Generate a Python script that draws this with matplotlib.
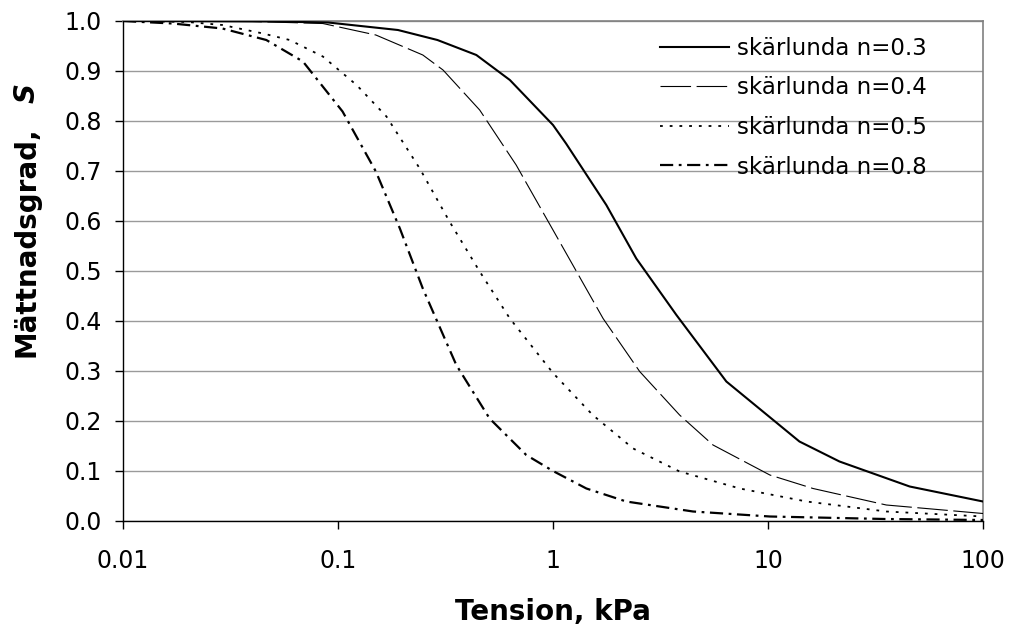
import matplotlib
matplotlib.use("Agg")
import matplotlib.pyplot as plt
from matplotlib.ticker import NullLocator

plt.rcParams['font.family'] = ['DejaVu Sans']
plt.rcParams['lines.scale_dashes'] = False

# tension (kPa) and saturation, one pair of arrays per curve
x_n03 = [0.01, 0.05, 0.09, 0.19, 0.29, 0.44, 0.63, 1.0, 1.15, 1.77, 2.44, 3.75, 6.4, 14, 21.5, 45.6, 100]
s_n03 = [1.0, 0.999, 0.997, 0.982, 0.962, 0.932, 0.882, 0.792, 0.755, 0.632, 0.525, 0.412, 0.279, 0.159, 0.119, 0.069, 0.039]

x_n04 = [0.01, 0.04, 0.085, 0.15, 0.248, 0.308, 0.456, 0.674, 1.0, 1.71, 2.53, 3.88, 5.55, 10.2, 16.2, 35.5, 100]
s_n04 = [1.0, 0.999, 0.995, 0.972, 0.932, 0.902, 0.822, 0.712, 0.582, 0.405, 0.299, 0.212, 0.152, 0.092, 0.065, 0.032, 0.015]

x_n05 = [0.01, 0.02, 0.029, 0.0448, 0.0596, 0.085, 0.122, 0.168, 0.24, 0.33, 0.456, 0.63, 1.0, 1.53, 2.36, 3.88, 7.4, 15.1, 35.5, 100]
s_n05 = [1.0, 0.998, 0.992, 0.975, 0.962, 0.929, 0.872, 0.809, 0.705, 0.599, 0.499, 0.405, 0.296, 0.212, 0.145, 0.099, 0.065, 0.039, 0.019, 0.009]

x_n08 = [0.01, 0.017, 0.029, 0.0464, 0.0687, 0.105, 0.15, 0.194, 0.248, 0.355, 0.507, 0.751, 1.0, 1.43, 2.19, 4.48, 10.2, 35, 100]
s_n08 = [1.0, 0.995, 0.985, 0.962, 0.919, 0.819, 0.699, 0.585, 0.465, 0.312, 0.205, 0.132, 0.10, 0.065, 0.039, 0.019, 0.009, 0.004, 0.002]

labels = ['skärlunda n=0.3', 'skärlunda n=0.4', 'skärlunda n=0.5', 'skärlunda n=0.8']

x_ticks = [0.01, 0.1, 1, 10, 100]
x_tick_labels = ['0.01', '0.1', '1', '10', '100']
y_ticks = [0.0, 0.1, 0.2, 0.3, 0.4, 0.5, 0.6, 0.7, 0.8, 0.9, 1.0]

W, H = 1010, 632
fig = plt.figure(figsize=(W / 100, H / 100), dpi=100)
ax = fig.add_axes([123 / W, 1 - 521 / H, (983 - 123) / W, (521 - 21) / H])

ax.plot(x_n03, s_n03, color='black', lw=1.5, label=labels[0], zorder=3)
ax.plot(x_n04, s_n04, color='black', lw=0.8, dashes=(22, 4), label=labels[1], zorder=3)
ax.plot(x_n05, s_n05, color='black', lw=1.3, dashes=(2, 5), label=labels[2], zorder=3)
ax.plot(x_n08, s_n08, color='black', lw=1.6, dashes=(9.5, 4, 2, 4), label=labels[3], zorder=3)

ax.set_xscale('log')
ax.set_xlim(0.01, 100)
ax.set_ylim(0, 1)
ax.set_xticks(x_ticks)
ax.set_xticklabels(x_tick_labels)
ax.xaxis.set_minor_locator(NullLocator())
ax.set_yticks(y_ticks)
ax.set_yticklabels([f'{v:.1f}' for v in y_ticks])

ax.tick_params(axis='x', direction='out', length=6, width=1, labelsize=17, pad=14)
ax.tick_params(axis='y', direction='out', length=6, width=1, labelsize=17, pad=9)

ax.yaxis.grid(True, color='#9a9a9a', lw=1)
ax.set_axisbelow(True)
for side in ('left', 'bottom'):
    ax.spines[side].set_color('black')
    ax.spines[side].set_linewidth(1)
for side in ('top', 'right'):
    ax.spines[side].set_color('#808080')
    ax.spines[side].set_linewidth(1.2)

fig.text(553 / W, 1 - 612 / H, 'Tension, kPa', ha='center', va='center',
         fontsize=20, fontweight='bold')
fig.text(27 / W, 1 - 357 / H, 'Mättnadsgrad,', rotation=90, ha='center', va='bottom',
         fontsize=20, fontweight='bold')
fig.text(27 / W, 1 - 83 / H, 'S', rotation=90, ha='center', va='top',
         fontsize=20, fontweight='bold', fontstyle='italic')

ax.legend(loc='upper left', bbox_to_anchor=(660 / W, 1 - 37 / H),
          bbox_transform=fig.transFigure, frameon=False, fontsize=16.5,
          handlelength=3.0, handletextpad=0.35, labelspacing=0.72,
          borderpad=0, borderaxespad=0)

fig.savefig('out.png', dpi=100)
